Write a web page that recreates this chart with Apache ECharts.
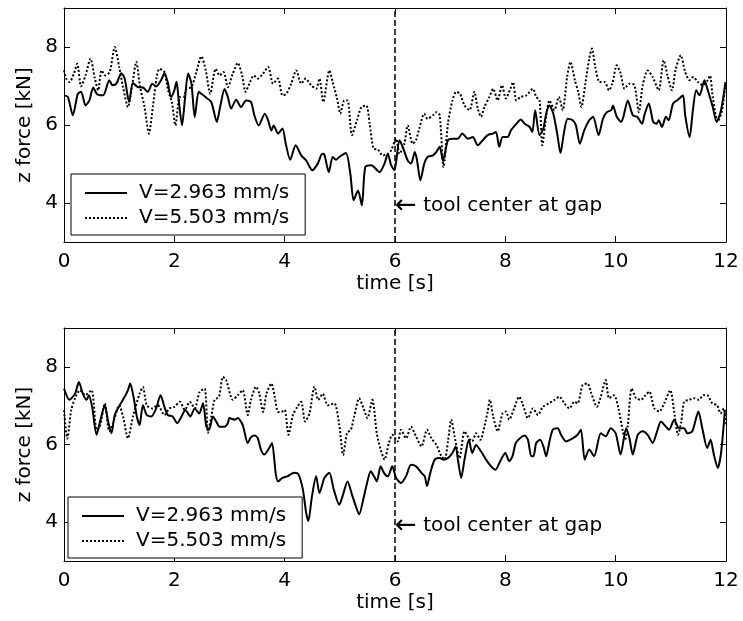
<!DOCTYPE html>
<html>
<head>
<meta charset="utf-8">
<script src="https://cdn.jsdelivr.net/npm/echarts@6/dist/echarts.min.js"></script>
<style>
  html, body { margin: 0; padding: 0; background: #fff; }
  #chart { width: 743px; height: 621px; }
</style>
</head>
<body>
<div id="chart"></div>
<script>
// ---------------- data ----------------
const seriesNames = ['V=2.963 mm/s', 'V=5.503 mm/s'];
const xTickInterval = 2;
const xMin = 0, xMax = 12;
const yMin = 3, yMax = 9;
const yTickValues = [4, 6, 8];
const gapTime = 6;
const annotationArrow = '\u2190';
const annotationText = 'tool center at gap';
const annotationY = [3.92, 3.9];
const xAxisName = 'time [s]';
const yAxisName = 'z force [kN]';

// top panel, V=2.963 mm/s  [time s, force kN]
const topSolid = [[0,6.76],[0.07,6.72],[0.16,6.25],[0.25,6.8],[0.31,6.85],[0.39,6.5],[0.46,6.63],[0.53,6.96],[0.6,6.79],[0.71,6.76],[0.82,7.15],[0.88,7.02],[0.95,7.06],[1.04,7.33],[1.1,7.19],[1.18,6.59],[1.25,7.08],[1.34,6.97],[1.43,6.96],[1.52,6.85],[1.6,7.06],[1.67,6.99],[1.76,7.15],[1.82,7.33],[1.88,7.1],[1.94,6.72],[2.0,6.89],[2.04,7.11],[2.08,6.63],[2.14,5.99],[2.19,6.63],[2.25,7.32],[2.31,7.06],[2.37,6.2],[2.44,6.85],[2.49,6.8],[2.58,6.7],[2.67,6.59],[2.77,6.08],[2.83,6.46],[2.91,6.92],[2.97,6.72],[3.03,6.42],[3.12,6.65],[3.21,6.46],[3.3,6.63],[3.39,6.59],[3.45,6.25],[3.53,5.99],[3.64,6.29],[3.7,6.12],[3.76,5.86],[3.8,5.99],[3.88,5.78],[3.96,5.91],[4.02,5.52],[4.1,5.11],[4.2,5.48],[4.3,5.22],[4.39,5.09],[4.5,4.84],[4.6,5.01],[4.68,5.26],[4.72,5.24],[4.8,4.79],[4.87,5.18],[4.93,5.11],[4.99,5.18],[5.11,5.28],[5.19,4.75],[5.25,4.07],[5.33,4.32],[5.4,3.94],[5.46,4.92],[5.57,4.97],[5.69,4.82],[5.72,4.79],[5.81,5.01],[5.87,5.26],[5.93,4.97],[5.99,4.84],[6.08,5.61],[6.14,5.44],[6.23,5.09],[6.29,5.01],[6.36,5.31],[6.4,5.09],[6.46,4.58],[6.53,5.01],[6.59,5.18],[6.69,5.22],[6.75,5.31],[6.81,5.44],[6.87,5.09],[6.96,5.61],[7.05,5.65],[7.14,5.65],[7.22,5.78],[7.32,5.65],[7.41,5.69],[7.5,5.48],[7.59,5.61],[7.68,5.74],[7.77,5.78],[7.83,5.82],[7.89,5.44],[7.95,5.69],[8.04,5.69],[8.1,5.86],[8.2,6.03],[8.28,6.14],[8.35,6.03],[8.44,5.95],[8.49,5.82],[8.54,6.38],[8.62,5.74],[8.69,5.91],[8.74,6.29],[8.8,6.5],[8.87,6.29],[8.94,5.78],[9.0,5.28],[9.06,5.78],[9.13,6.16],[9.22,6.12],[9.28,5.99],[9.35,5.52],[9.43,5.86],[9.52,6.12],[9.59,6.21],[9.69,5.74],[9.77,6.16],[9.84,6.33],[9.92,6.38],[9.95,6.5],[10.02,6.21],[10.1,6.08],[10.14,6.21],[10.22,6.63],[10.31,6.25],[10.39,6.21],[10.48,6.03],[10.52,6.25],[10.6,6.55],[10.68,6.08],[10.74,6.03],[10.78,6.12],[10.84,5.95],[10.91,6.21],[10.96,6.12],[11.04,6.55],[11.13,6.65],[11.22,6.76],[11.26,6.25],[11.34,5.69],[11.4,6.38],[11.46,6.89],[11.52,6.76],[11.61,7.15],[11.67,6.89],[11.76,6.46],[11.83,6.08],[11.91,6.38],[11.99,7.1]];

// top panel, V=5.503 mm/s
const topDotted = [[0,7.4],[0.04,7.19],[0.1,7.1],[0.18,7.32],[0.24,7.57],[0.31,6.99],[0.39,7.27],[0.48,7.7],[0.56,7.19],[0.62,6.89],[0.68,7.4],[0.75,7.27],[0.83,7.36],[0.92,8.0],[1.0,7.49],[1.07,6.97],[1.16,6.46],[1.24,7.06],[1.31,7.62],[1.38,6.97],[1.46,6.46],[1.54,5.78],[1.61,6.46],[1.68,7.23],[1.73,7.44],[1.82,7.36],[1.88,6.93],[1.96,6.55],[2.02,5.99],[2.1,6.72],[2.17,6.72],[2.22,6.93],[2.31,6.97],[2.4,7.36],[2.49,7.76],[2.57,7.4],[2.65,6.8],[2.75,7.44],[2.82,7.27],[2.89,7.36],[2.97,6.97],[3.06,7.32],[3.15,7.59],[3.23,7.27],[3.29,6.85],[3.36,7.06],[3.44,7.27],[3.51,7.19],[3.61,7.32],[3.7,7.49],[3.79,7.06],[3.88,7.19],[3.96,6.76],[4.03,6.8],[4.12,7.06],[4.21,7.4],[4.3,7.06],[4.38,7.19],[4.48,7.02],[4.57,6.93],[4.63,7.19],[4.7,6.59],[4.81,7.4],[4.87,7.1],[4.95,6.68],[5.01,6.29],[5.08,6.63],[5.14,6.63],[5.22,5.74],[5.31,6.12],[5.39,6.46],[5.48,6.5],[5.54,6.03],[5.61,5.4],[5.69,5.37],[5.78,5.22],[5.87,5.26],[5.93,5.35],[6.02,5.65],[6.08,5.26],[6.17,5.52],[6.23,5.99],[6.32,5.52],[6.38,5.61],[6.44,5.91],[6.53,6.29],[6.59,6.16],[6.69,6.25],[6.75,6.33],[6.81,6.25],[6.88,4.92],[6.96,6.03],[7.04,6.63],[7.11,6.85],[7.18,6.8],[7.26,6.5],[7.35,6.38],[7.44,6.85],[7.5,6.42],[7.56,6.21],[7.62,6.46],[7.71,6.72],[7.78,6.93],[7.86,6.63],[7.94,7.02],[8.01,6.68],[8.08,6.89],[8.14,7.1],[8.2,6.63],[8.28,6.72],[8.38,6.76],[8.5,6.93],[8.56,6.72],[8.62,6.63],[8.67,5.48],[8.74,6.21],[8.8,6.63],[8.89,6.38],[8.97,6.72],[9.04,6.38],[9.12,7.23],[9.18,7.62],[9.26,7.15],[9.32,6.85],[9.38,6.46],[9.45,7.06],[9.52,7.7],[9.57,7.96],[9.63,7.49],[9.71,7.1],[9.8,7.1],[9.88,6.89],[9.94,7.06],[10.02,7.53],[10.09,7.32],[10.16,6.93],[10.25,7.06],[10.34,7.02],[10.42,6.33],[10.49,7.02],[10.58,7.4],[10.67,7.23],[10.78,6.89],[10.87,7.66],[10.94,7.27],[11.02,6.89],[11.09,7.44],[11.18,7.79],[11.26,7.36],[11.34,7.15],[11.41,7.23],[11.49,7.1],[11.58,7.02],[11.67,7.15],[11.71,7.27],[11.76,6.72],[11.85,6.08],[11.93,6.38],[11.99,7.06]];

// bottom panel, V=2.963 mm/s
const bottomSolid = [[0,7.44],[0.1,7.15],[0.2,7.31],[0.27,7.61],[0.34,7.31],[0.41,7.15],[0.45,7.27],[0.51,6.97],[0.59,6.25],[0.66,6.63],[0.74,7.01],[0.8,6.59],[0.86,6.29],[0.92,6.76],[1.01,7.01],[1.1,7.23],[1.16,7.4],[1.2,7.57],[1.26,7.23],[1.32,6.72],[1.37,6.5],[1.43,7.01],[1.5,6.76],[1.58,6.72],[1.67,6.93],[1.75,7.27],[1.82,6.97],[1.88,6.76],[1.97,6.72],[2.05,6.55],[2.13,6.72],[2.2,6.89],[2.29,6.72],[2.37,6.93],[2.45,6.8],[2.52,7.06],[2.58,6.46],[2.63,6.38],[2.7,6.72],[2.76,6.59],[2.82,6.46],[2.91,6.46],[2.97,6.55],[3.0,6.68],[3.09,6.64],[3.15,6.68],[3.24,6.5],[3.33,6.04],[3.39,6.19],[3.46,6.23],[3.51,6.17],[3.57,5.87],[3.63,5.74],[3.72,5.91],[3.77,6.04],[3.84,5.23],[3.88,5.05],[3.96,5.14],[4.05,5.18],[4.17,5.27],[4.25,5.23],[4.33,4.84],[4.39,4.24],[4.43,4.03],[4.49,4.62],[4.57,5.18],[4.63,4.75],[4.72,5.14],[4.81,5.27],[4.89,4.84],[4.99,4.45],[5.05,4.67],[5.14,5.05],[5.22,4.71],[5.29,4.41],[5.35,4.2],[5.43,4.62],[5.5,5.05],[5.56,5.31],[5.62,5.18],[5.67,5.05],[5.74,5.44],[5.8,5.27],[5.87,5.18],[5.95,5.44],[6.02,5.14],[6.11,5.01],[6.2,5.18],[6.29,5.48],[6.38,5.44],[6.48,5.27],[6.54,5.18],[6.58,4.93],[6.64,5.27],[6.72,5.61],[6.81,5.65],[6.88,5.61],[6.96,5.65],[7.04,5.78],[7.1,5.95],[7.14,5.61],[7.2,5.14],[7.26,5.61],[7.34,6.12],[7.4,5.78],[7.47,5.99],[7.56,5.82],[7.65,5.61],[7.74,5.44],[7.82,5.35],[7.92,5.61],[8.0,5.78],[8.07,5.57],[8.13,5.7],[8.19,6.04],[8.27,6.17],[8.35,6.23],[8.41,6.12],[8.47,5.7],[8.51,5.7],[8.56,6.04],[8.63,6.12],[8.69,5.95],[8.74,5.7],[8.8,6.08],[8.86,6.38],[8.95,6.42],[9.01,6.25],[9.1,6.08],[9.22,6.16],[9.31,6.25],[9.37,6.38],[9.44,5.61],[9.52,5.87],[9.61,5.7],[9.73,6.29],[9.82,6.21],[9.91,6.42],[10.0,6.29],[10.09,5.74],[10.19,6.42],[10.25,6.16],[10.31,5.74],[10.4,6.25],[10.49,6.34],[10.58,6.25],[10.67,6.04],[10.76,6.38],[10.82,6.59],[10.91,6.46],[10.97,6.38],[11.06,6.64],[11.15,6.42],[11.24,6.42],[11.3,6.29],[11.39,6.34],[11.5,6.85],[11.57,6.42],[11.66,5.91],[11.72,6.12],[11.78,5.74],[11.85,5.4],[11.91,5.78],[11.98,6.89]];

// bottom panel, V=5.503 mm/s
const bottomDotted = [[0,6.88],[0.06,6.15],[0.13,6.88],[0.2,7.19],[0.29,7.4],[0.38,7.27],[0.5,7.4],[0.59,6.38],[0.65,6.46],[0.74,7.06],[0.82,6.34],[0.89,6.55],[1.0,7.01],[1.07,6.72],[1.16,6.16],[1.25,6.72],[1.37,7.31],[1.43,7.48],[1.5,7.01],[1.6,6.93],[1.7,7.01],[1.82,6.76],[1.91,6.93],[2.0,6.97],[2.1,7.1],[2.19,6.89],[2.28,7.1],[2.37,6.93],[2.46,7.36],[2.55,7.44],[2.61,6.3],[2.67,6.72],[2.73,7.15],[2.81,7.23],[2.88,7.74],[2.94,7.66],[3.06,7.15],[3.15,7.27],[3.24,7.4],[3.33,6.76],[3.39,7.15],[3.48,7.49],[3.54,7.31],[3.61,6.84],[3.67,7.31],[3.76,7.57],[3.82,7.23],[3.88,6.84],[3.94,6.84],[4.0,6.89],[4.07,6.25],[4.15,6.76],[4.23,6.97],[4.3,7.1],[4.37,6.59],[4.45,6.8],[4.54,7.49],[4.61,7.15],[4.69,7.31],[4.78,7.01],[4.9,7.06],[4.99,6.5],[5.06,5.73],[5.13,6.29],[5.2,6.38],[5.26,6.72],[5.35,7.19],[5.43,6.93],[5.5,6.68],[5.59,7.15],[5.67,6.29],[5.74,5.87],[5.81,5.61],[5.89,6.04],[5.95,6.25],[6.05,6.08],[6.11,6.38],[6.2,6.16],[6.29,6.46],[6.38,6.21],[6.48,5.95],[6.58,6.38],[6.66,6.16],[6.75,5.99],[6.84,5.7],[6.9,5.61],[6.96,6.08],[7.02,6.64],[7.08,6.21],[7.17,5.65],[7.26,6.34],[7.34,6.16],[7.4,6.08],[7.47,6.29],[7.55,6.12],[7.62,6.46],[7.68,6.85],[7.72,7.15],[7.78,6.72],[7.86,6.34],[7.95,6.8],[8.01,6.85],[8.07,6.64],[8.16,6.93],[8.25,7.23],[8.31,7.06],[8.41,6.68],[8.5,6.93],[8.59,6.76],[8.68,6.97],[8.79,7.06],[8.89,7.15],[8.98,7.23],[9.07,7.06],[9.16,6.93],[9.25,7.1],[9.31,7.06],[9.4,7.53],[9.49,7.57],[9.56,7.31],[9.66,6.97],[9.73,7.23],[9.82,7.66],[9.88,7.19],[9.97,7.27],[10.05,6.93],[10.13,6.34],[10.17,6.12],[10.22,6.5],[10.29,7.44],[10.37,7.19],[10.46,7.15],[10.54,7.27],[10.61,7.36],[10.7,6.93],[10.79,6.85],[10.88,7.06],[10.99,7.4],[11.06,6.85],[11.13,6.25],[11.19,6.59],[11.24,7.1],[11.33,7.15],[11.42,7.19],[11.51,7.15],[11.59,7.27],[11.66,7.27],[11.75,7.06],[11.84,7.01],[11.9,6.8],[11.96,6.93],[12.0,6.5]];

// ---------------- chart ----------------
const FONT = 'DejaVu Sans';
const chart = echarts.init(document.getElementById('chart'), null, { renderer: 'canvas' });

const grids = [
  { left: 64, top: 8, width: 662, height: 234 },
  { left: 64, top: 328, width: 662, height: 233 }
];

const axisLine = { show: true, onZero: false, lineStyle: { color: '#000', width: 1 } };
const tickIn = { show: true, inside: true, length: 6, lineStyle: { color: '#000', width: 1 } };

function xAxes(gi) {
  return [
    {
      type: 'value', gridIndex: gi, position: 'bottom', min: xMin, max: xMax, interval: xTickInterval,
      axisLine, axisTick: tickIn, splitLine: { show: false },
      axisLabel: { color: '#000', fontFamily: FONT, fontSize: 20, margin: 10 },
      name: xAxisName, nameLocation: 'middle', nameGap: 32,
      nameTextStyle: { color: '#000', fontFamily: FONT, fontSize: 20 }
    },
    {
      type: 'value', gridIndex: gi, position: 'top', min: xMin, max: xMax, interval: xTickInterval,
      axisLine, axisTick: tickIn, splitLine: { show: false }, axisLabel: { show: false }
    }
  ];
}
function yAxes(gi) {
  return [
    {
      type: 'value', gridIndex: gi, position: 'left', min: yMin, max: yMax,
      axisLine, splitLine: { show: false },
      axisTick: Object.assign({ customValues: yTickValues }, tickIn),
      axisLabel: { color: '#000', fontFamily: FONT, fontSize: 20, margin: 6, customValues: yTickValues },
      name: yAxisName, nameLocation: 'middle', nameGap: 27,
      nameTextStyle: { color: '#000', fontFamily: FONT, fontSize: 20 }
    },
    {
      type: 'value', gridIndex: gi, position: 'right', min: yMin, max: yMax,
      axisLine, splitLine: { show: false },
      axisTick: Object.assign({ customValues: yTickValues }, tickIn),
      axisLabel: { show: false }
    }
  ];
}

function lineSeries(name, data, gi, dotted, withMarks) {
  const s = {
    type: 'line', name, data, xAxisIndex: gi * 2, yAxisIndex: gi * 2,
    symbol: 'none', showSymbol: false, smooth: 0.25, animation: false,
    lineStyle: { color: '#000', width: 2, type: dotted ? [2, 2] : 'solid', join: 'round' },
    itemStyle: { color: '#000' },
    z: dotted ? 2 : 3
  };
  if (withMarks) {
    s.markLine = {
      silent: true, symbol: ['none', 'none'], animation: false,
      label: { show: false },
      lineStyle: { color: '#000', width: 1.5, type: [6, 3] },
      data: [{ xAxis: gapTime }]
    };
    s.markPoint = {
      silent: true, symbol: 'circle', symbolSize: 0, animation: false,
      label: {
        show: true, position: 'right', distance: 0, color: '#000',
        fontFamily: FONT, fontSize: 20,
        formatter: '{a|' + annotationArrow + '} ' + annotationText,
        rich: { a: { fontFamily: FONT, fontSize: 26, color: '#000' } }
      },
      data: [{ coord: [gapTime, annotationY[gi]] }]
    };
  }
  return s;
}

function legendFor(left, top) {
  return {
    show: true, orient: 'vertical', left, top,
    data: seriesNames,
    itemWidth: 42, itemHeight: 20, itemGap: 5,
    padding: [9, 16, 7, 13],
    backgroundColor: '#fff', borderColor: '#000', borderWidth: 1, borderRadius: 0,
    selectedMode: false,
    itemStyle: { opacity: 0 },
    textStyle: { color: '#000', fontFamily: FONT, fontSize: 20, padding: [0, 0, 0, 7] }
  };
}

const option = {
  animation: false,
  backgroundColor: '#fff',
  grid: grids,
  xAxis: [...xAxes(0), ...xAxes(1)],
  yAxis: [...yAxes(0), ...yAxes(1)],
  legend: [legendFor(71, 174), legendFor(68, 497)],
  series: [
    lineSeries(seriesNames[0], topSolid, 0, false, true),
    lineSeries(seriesNames[1], topDotted, 0, true, false),
    lineSeries(seriesNames[0], bottomSolid, 1, false, true),
    lineSeries(seriesNames[1], bottomDotted, 1, true, false)
  ]
};
chart.setOption(option);
</script>
</body>
</html>
